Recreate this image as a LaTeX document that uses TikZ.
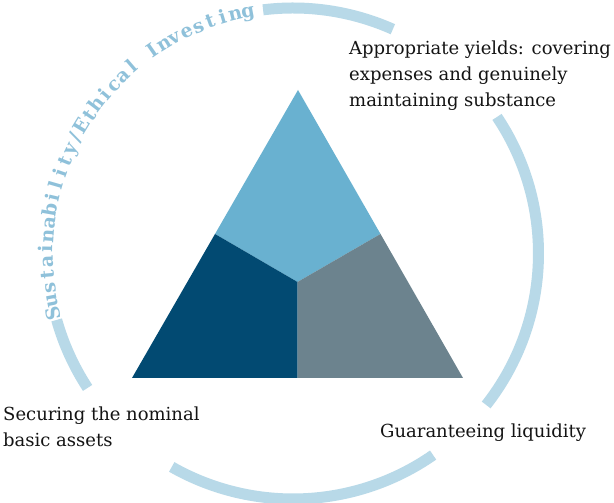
\documentclass[tikz,border=0pt]{standalone}
\usepackage{fontspec}
\setmainfont{DejaVu Serif}

\newlength{\du}
\setlength{\du}{10pt}
\newlength{\chw}
\newlength{\arcw}

\definecolor{ringcolor}{rgb}{0.722, 0.851, 0.910}
\definecolor{arctextcolor}{rgb}{0.560, 0.757, 0.855}
\definecolor{topcolor}{rgb}{0.412, 0.694, 0.816}
\definecolor{leftcolor}{rgb}{0.008, 0.290, 0.447}
\definecolor{rightcolor}{rgb}{0.424, 0.514, 0.557}
\definecolor{goalcolor}{rgb}{0.080, 0.080, 0.080}

\newcommand{\arcfont}{\fontsize{19}{19}\selectfont\bfseries}

\tikzset{
  goaltext/.style={anchor=base west, align=left, inner sep=0pt, text=goalcolor,
    font=\fontsize{18}{26}\selectfont},
  arcletter/.style={anchor=base, inner sep=0pt, text=arctextcolor, font=\arcfont},
  ringarc/.style={draw=ringcolor, line width=1.1\du},
}

\begin{document}
\begin{tikzpicture}
\useasboundingbox[fill=white] (0,0) rectangle (61.4\du,50.3\du);
% centre of the ring and corners of the triangle
\coordinate (c) at (29.3\du,24.95\du);
\coordinate (apex) at (29.8\du,41.3\du);
\coordinate (bl) at (13.2\du,12.5\du);
\coordinate (br) at (46.3\du,12.5\du);
\coordinate (mid) at (29.75\du,22.1\du);
\coordinate (ml) at (21.5\du,26.9\du);
\coordinate (mr) at (38.05\du,26.9\du);
\coordinate (mb) at (29.75\du,12.5\du);
% ring, broken where the texts are
\draw[ringarc, shift={(c)}] (97:24.55\du) arc[start angle=97, end angle=66, radius=24.55\du];
\draw[ringarc, shift={(c)}] (33.8:24.55\du) arc[start angle=33.8, end angle=-38.1, radius=24.55\du];
\draw[ringarc, shift={(c)}] (-55.2:24.55\du) arc[start angle=-55.2, end angle=-119.6, radius=24.55\du];
\draw[ringarc, shift={(c)}] (195.7:24.55\du) arc[start angle=195.7, end angle=213.2, radius=24.55\du];
% setfont left to latex
% letters along the ring, from 194 to 100.6 degrees on radius 240pt
\settowidth{\arcw}{\arcfont Sustainability/Ethical Investing}
\pgfmathsetmacro{\arctrack}{(391.2-\arcw)/31}
\xdef\arcacc{0}
\foreach \ch [count=\i] in {S,u,s,t,a,i,n,a,b,i,l,i,t,y,/,E,t,h,i,c,a,l,{~},I,n,v,e,s,t,i,n,g}{
  \settowidth{\chw}{\arcfont\ch}
  \pgfmathsetmacro{\ang}{194-(\arcacc+0.5*\chw)/240*57.29578}
  \node[arcletter, rotate=\ang-90] (arc\i) at ([shift={(\ang:24\du)}]c) {\ch};
  \pgfmathsetmacro{\newacc}{\arcacc+\chw+\arctrack}
  \xdef\arcacc{\newacc}
}
% triangle
\fill[topcolor] (apex) -- (mr) -- (mid) -- (ml) -- cycle;
\fill[leftcolor] (ml) -- (mid) -- (mb) -- (bl) -- cycle;
\fill[rightcolor] (mr) -- (br) -- (mb) -- (mid) -- cycle;
% setfont left to latex
\node[goaltext] (yields) at (34.9\du,39.6\du) {Appropriate yields: covering\\expenses and genuinely\\maintaining substance};
\node[goaltext] (assets) at (0.3\du,5.6\du) {Securing the nominal\\basic assets};
\node[goaltext] (liquidity) at (38.0\du,6.5\du) {Guaranteeing liquidity};
\end{tikzpicture}
\end{document}
